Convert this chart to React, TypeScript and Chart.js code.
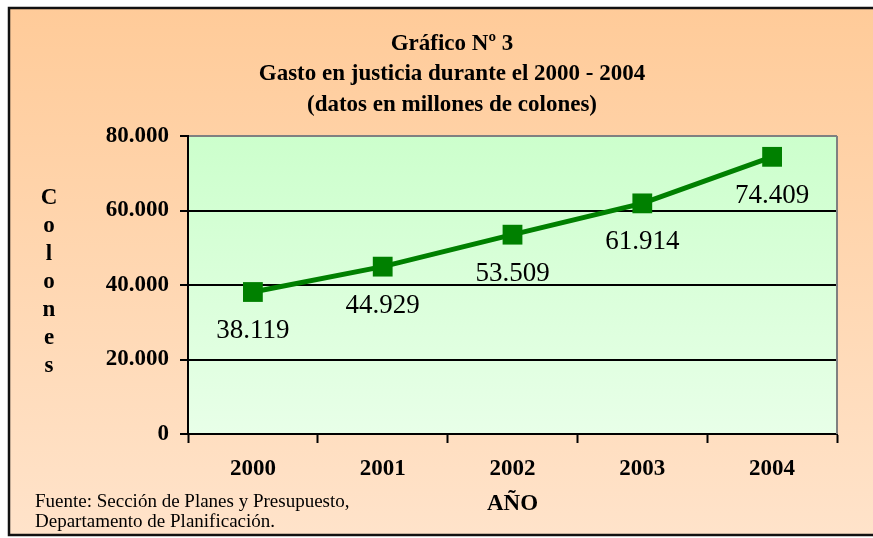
import React, { useEffect, useRef } from 'react';
import { Chart, registerables } from 'chart.js';

Chart.register(...registerables);

const categories = ['2000', '2001', '2002', '2003', '2004'];
const gasto = [38119, 44929, 53509, 61914, 74409];
const yMin = 0;
const yMax = 80000;
const yStep = 20000;
const titleLines = ['Gráfico Nº 3', 'Gasto en justicia durante el 2000 - 2004', '(datos en millones de colones)'];
const yTitle = 'Colones';
const xTitle = 'AÑO';
const footnote = ['Fuente: Sección de Planes y Presupuesto,', 'Departamento de Planificación.'];

const SERIF = "'Liberation Serif', 'Times New Roman', serif";

const fmt = (v: number) => String(Math.round(v)).replace(/\B(?=(\d{3})+(?!\d))/g, '.');

const decorPlugin = {
  id: 'decor',
  beforeDraw(chart: any) {
    const { ctx, chartArea: ca, width } = chart;
    ctx.save();
    const g = ctx.createLinearGradient(0, 8, 0, 535);
    g.addColorStop(0, '#FFCB99');
    g.addColorStop(1, '#FFE3CA');
    ctx.fillStyle = g;
    ctx.fillRect(9, 8, width + 20, 527);
    ctx.strokeStyle = '#111';
    ctx.lineWidth = 2.5;
    ctx.strokeRect(9, 8, width + 20, 527);
    const pg = ctx.createLinearGradient(0, ca.top, 0, ca.bottom);
    pg.addColorStop(0, '#CCFFCC');
    pg.addColorStop(1, '#E8FFE8');
    ctx.fillStyle = pg;
    ctx.fillRect(ca.left, ca.top, ca.right - ca.left, ca.bottom - ca.top);
    ctx.restore();
  },
  beforeDatasetsDraw(chart: any) {
    const { ctx, chartArea: ca } = chart;
    ctx.save();
    ctx.strokeStyle = '#808080';
    ctx.lineWidth = 2;
    ctx.beginPath();
    ctx.moveTo(ca.right, ca.top);
    ctx.lineTo(ca.right, ca.bottom);
    ctx.stroke();
    ctx.restore();
  },
  afterDatasetsDraw(chart: any) {
    const { ctx } = chart;
    const meta = chart.getDatasetMeta(0);
    ctx.save();
    ctx.fillStyle = '#000';
    ctx.font = `27px ${SERIF}`;
    ctx.textAlign = 'center';
    ctx.textBaseline = 'middle';
    meta.data.forEach((pt: any, i: number) => {
      ctx.fillText(fmt(gasto[i]), pt.x, pt.y + 39);
    });
    ctx.restore();
  },
  afterDraw(chart: any) {
    const { ctx, chartArea: ca } = chart;
    ctx.save();
    ctx.fillStyle = '#000';
    ctx.font = `bold 23px ${SERIF}`;
    ctx.textAlign = 'center';
    ctx.textBaseline = 'middle';
    const letters = yTitle.split('');
    const mid = (ca.top + ca.bottom) / 2 - 3;
    const gap = 28;
    letters.forEach((ch, i) => {
      ctx.fillText(ch, 49, mid + (i - (letters.length - 1) / 2) * gap);
    });
    ctx.font = `19px ${SERIF}`;
    ctx.textAlign = 'left';
    ctx.textBaseline = 'alphabetic';
    footnote.forEach((line, i) => {
      ctx.fillText(line, 35, 507 + i * 20);
    });
    ctx.restore();
  },
};

export default function App() {
  const ref = useRef<HTMLCanvasElement | null>(null);

  useEffect(() => {
    if (!ref.current) return;
    const chart = new Chart(ref.current, {
      type: 'line',
      data: {
        labels: categories,
        datasets: [
          {
            label: 'Gasto',
            data: gasto,
            borderColor: '#008000',
            backgroundColor: '#008000',
            borderWidth: 5,
            pointStyle: 'rect',
            pointRadius: 14,
            pointHoverRadius: 14,
            pointBorderWidth: 0,
            pointBackgroundColor: '#008000',
            tension: 0,
            fill: false,
          },
        ],
      },
      options: {
        animation: false,
        responsive: false,
        events: [],
        layout: { padding: { left: 67, right: 36, top: 0, bottom: 0 } },
        plugins: {
          legend: { display: false },
          tooltip: { enabled: false },
          title: {
            display: true,
            text: titleLines,
            color: '#000',
            font: { family: SERIF, size: 23, weight: 'bold', lineHeight: 30.5 / 23 },
            padding: { top: 28.5, bottom: 16 },
          },
        },
        scales: {
          x: {
            type: 'category',
            offset: true,
            grid: {
              display: true,
              drawOnChartArea: false,
              drawTicks: true,
              tickLength: 9,
              tickColor: '#000',
              tickWidth: 2,
              offset: true,
            },
            border: { display: true, color: '#000', width: 2 },
            ticks: {
              color: '#000',
              padding: 12,
              font: { family: SERIF, size: 23, weight: 'bold' },
            },
            title: {
              display: true,
              text: xTitle,
              color: '#000',
              font: { family: SERIF, size: 23, weight: 'bold' },
              padding: { top: 0, bottom: 20 },
            },
            afterFit: (s: any) => {
              s.height = 104;
            },
          },
          y: {
            min: yMin,
            max: yMax,
            ticks: {
              stepSize: yStep,
              color: '#000',
              padding: 11,
              font: { family: SERIF, size: 23, weight: 'bold' },
              callback: (v: any) => fmt(Number(v)),
            },
            grid: {
              color: (c: any) => (c.tick && c.tick.value === yMax ? '#808080' : '#000'),
              lineWidth: 2,
              drawTicks: true,
              tickLength: 8,
              tickColor: '#000',
              tickWidth: 2,
            },
            border: { display: true, color: '#000', width: 2 },
            afterFit: (s: any) => {
              s.width = 121;
            },
          },
        },
      },
      plugins: [decorPlugin],
    });
    return () => chart.destroy();
  }, []);

  return (
    <div style={{ position: 'fixed', left: 0, top: 0, width: 873, height: 538, background: '#fff' }}>
      <canvas ref={ref} width={873} height={538} style={{ display: 'block', width: 873, height: 538 }} />
    </div>
  );
}
